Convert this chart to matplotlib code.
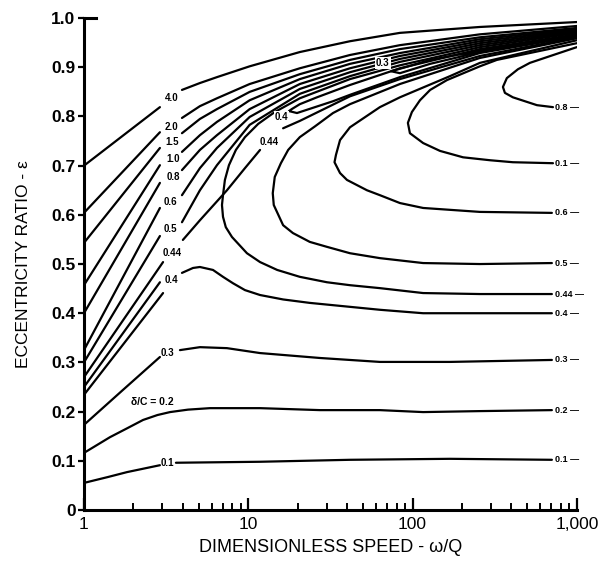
import matplotlib
matplotlib.use("Agg")
import matplotlib.pyplot as plt
import numpy as np

plt.rcParams['font.family'] = ['Liberation Sans', 'DejaVu Sans']

# ---------------- data (speed w/Q, eccentricity ratio) ----------------
# shared abscissae of the upper family after their labels
speed_upper = [3.95, 5.08, 6.45, 10.2, 20.6, 41.6, 83.8, 257, 1000]

# delta/C = 4.0
x_40a = [1, 2.90]; y_40a = [0.700, 0.819]
y_40b = [0.854, 0.868, 0.880, 0.902, 0.931, 0.953, 0.970, 0.982, 0.992]
# delta/C = 2.0
x_20a = [1, 2.90]; y_20a = [0.604, 0.768]
y_20b = [0.797, 0.821, 0.837, 0.866, 0.898, 0.925, 0.945, 0.967, 0.984]
# delta/C = 1.5
x_15a = [1, 2.90]; y_15a = [0.543, 0.736]
y_15b = [0.766, 0.795, 0.815, 0.850, 0.886, 0.915, 0.937, 0.961, 0.980]
# delta/C = 1.0
x_10a = [1, 2.90]; y_10a = [0.457, 0.701]
y_10b = [0.728, 0.762, 0.789, 0.833, 0.876, 0.907, 0.929, 0.957, 0.978]
# delta/C = 0.8
x_08a = [1, 2.90]; y_08a = [0.400, 0.665]
y_08b = [0.691, 0.732, 0.762, 0.815, 0.866, 0.898, 0.923, 0.953, 0.976]
# delta/C = 0.6
x_06a = [1, 2.90]; y_06a = [0.325, 0.614]
y_06b = [0.640, 0.695, 0.736, 0.799, 0.856, 0.890, 0.917, 0.949, 0.974]
# delta/C = 0.5
x_05a = [1, 2.90]; y_05a = [0.300, 0.557]
y_05b = [0.585, 0.650, 0.701, 0.783, 0.846, 0.882, 0.911, 0.945, 0.972]
# delta/C = 0.44 straight branch
x_044a = [1, 3.03]; y_044a = [0.270, 0.504]
x_044b = [4.0, 5.08, 7.42, 9.55, 11.8]; y_044b = [0.549, 0.589, 0.650, 0.695, 0.732]
x_044c = [16.3, 20.6, 41.6, 83.8, 257, 1000]; y_044c = [0.776, 0.791, 0.841, 0.876, 0.923, 0.961]
# unlabelled short line
x_un = [1, 2.90]; y_un = [0.250, 0.463]
# delta/C = 0.44 C-shaped branch
x_044C = [1000, 257, 83.8, 41.6, 20.6, 14.5, 11.5, 9.55, 8.41, 7.63, 7.21, 7.02, 6.92,
          7.02, 7.30, 7.96, 9.82, 11.8, 15.0, 20.6, 30.1, 41.6, 63.3, 116, 257, 705]
y_044C = [0.970, 0.941, 0.904, 0.876, 0.837, 0.809, 0.785, 0.758, 0.732, 0.701, 0.671, 0.640, 0.620,
          0.596, 0.575, 0.555, 0.522, 0.504, 0.488, 0.474, 0.463, 0.457, 0.451, 0.441, 0.439, 0.439]
# delta/C = 0.4 lower (hump) branch
x_04a = [1, 3.03]; y_04a = [0.234, 0.441]
x_04b = [3.95, 4.61, 5.08, 6.10, 7.02, 8.07, 9.55, 11.8, 16.3, 23.7, 63.3, 116, 257, 705]
y_04b = [0.482, 0.492, 0.494, 0.488, 0.474, 0.461, 0.447, 0.437, 0.428, 0.421, 0.407, 0.400, 0.400, 0.400]
# delta/C = 0.4 upper U branch
x_04U = [1000, 257, 83.8, 41.6, 26.2, 20.6, 18.4, 17.7, 19.8, 32.8, 41.6, 83.8, 257, 1000]
y_04U = [0.967, 0.937, 0.898, 0.864, 0.839, 0.825, 0.815, 0.811, 0.807, 0.831, 0.844, 0.880, 0.929, 0.963]
# delta/C = 0.3 upper U branch
x_03U = [1000, 257, 128, 83.8, 74, 83.8, 128, 257, 1000]
y_03U = [0.966, 0.934, 0.915, 0.897, 0.892, 0.888, 0.907, 0.931, 0.965]
# C-shaped curves on the right
x_05C = [1000, 257, 83.8, 41.6, 32.8, 25.5, 20.6, 17.5, 15.8, 14.5, 14.1, 14.3, 16.3, 18.7, 23.7,
         30.1, 41.6, 63.3, 116, 257, 705]
y_05C = [0.959, 0.919, 0.866, 0.825, 0.807, 0.780, 0.758, 0.732, 0.705, 0.677, 0.644, 0.620, 0.579,
         0.563, 0.545, 0.535, 0.522, 0.512, 0.502, 0.500, 0.502]
x_06C = [1000, 257, 169, 83.8, 63.3, 41.6, 36.2, 34.2, 33.5, 34.7, 36.2, 39.9, 52.8, 63.3, 83.8,
         116, 257, 705]
y_06C = [0.955, 0.909, 0.882, 0.839, 0.819, 0.778, 0.752, 0.722, 0.707, 0.697, 0.685, 0.671, 0.650,
         0.640, 0.624, 0.614, 0.606, 0.604]
x_07C = [1000, 326, 257, 162, 128, 111, 99.1, 93.7, 96.4, 116, 147, 203, 297, 408, 716]
y_07C = [0.949, 0.915, 0.902, 0.874, 0.854, 0.833, 0.809, 0.787, 0.766, 0.746, 0.730, 0.717, 0.711,
         0.707, 0.705]
x_08C = [1000, 518, 438, 375, 355, 365, 408, 572, 716]
y_08C = [0.941, 0.909, 0.896, 0.878, 0.860, 0.848, 0.839, 0.823, 0.819]
# delta/C = 0.3 lower branch
x_03a = [1, 1.70, 2.90]; y_03a = [0.173, 0.242, 0.311]
x_03b = [3.84, 5.08, 7.42, 11.8, 27.3, 63.3, 169, 705]
y_03b = [0.325, 0.331, 0.329, 0.319, 0.309, 0.301, 0.301, 0.305]
# delta/C = 0.2
x_02 = [1, 1.44, 1.83, 2.29, 2.80, 3.34, 4.30, 5.85, 11.8, 27.3, 63.3, 116, 257, 705]
y_02 = [0.116, 0.148, 0.166, 0.183, 0.193, 0.199, 0.204, 0.207, 0.207, 0.203, 0.203, 0.199, 0.201, 0.203]
# delta/C = 0.1
x_01a = [1, 1.40, 1.83, 2.90]; y_01a = [0.055, 0.067, 0.077, 0.091]
x_01b = [3.63, 11.8, 41.6, 169, 705]; y_01b = [0.096, 0.098, 0.102, 0.104, 0.102]

# in-plot labels
left_labels = ["4.0", "2.0", "1.5", "1.0", "0.8", "0.6", "0.5", "0.44", "0.4", "0.3", "0.1"]
left_lab_x = [3.43, 3.43, 3.43, 3.48, 3.48, 3.34, 3.34, 3.43, 3.43, 3.24, 3.24]
left_lab_y = [0.837, 0.778, 0.748, 0.713, 0.677, 0.626, 0.571, 0.522, 0.467, 0.319, 0.096]
inner_labels = ["0.44", "0.4", "0.3"]
inner_lab_x = [13.5, 16.0, 66]
inner_lab_y = [0.748, 0.799, 0.909]
right_labels = ["0.8", "0.1", "0.6", "0.5", "0.44", "0.4", "0.3", "0.2", "0.1"]

xticks = [1, 10, 100, 1000]
xtick_labels = ["1", "10", "100", "1,000"]
yticks = [0, 0.1, 0.2, 0.3, 0.4, 0.5, 0.6, 0.7, 0.8, 0.9, 1.0]
ytick_labels = ["0", "0.1", "0.2", "0.3", "0.4", "0.5", "0.6", "0.7", "0.8", "0.9", "1.0"]

# ---------------- drawing ----------------
fig = plt.figure(figsize=(6.04, 5.66), dpi=100)
ax = fig.add_axes([0.139, 0.099, 0.816, 0.869])
ax.set_xscale('log')
ax.set_xlim(1, 1000)
ax.set_ylim(0, 1.0)

LW = 1.6
kw = dict(color='black', lw=LW, solid_capstyle='round', solid_joinstyle='round')

segments = [
    (x_40a, y_40a), (speed_upper, y_40b),
    (x_20a, y_20a), (speed_upper, y_20b),
    (x_15a, y_15a), (speed_upper, y_15b),
    (x_10a, y_10a), (speed_upper, y_10b),
    (x_08a, y_08a), (speed_upper, y_08b),
    (x_06a, y_06a), (speed_upper, y_06b),
    (x_05a, y_05a), (speed_upper, y_05b),
    (x_044a, y_044a), (x_044b, y_044b), (x_044c, y_044c),
    (x_un, y_un),
    (x_044C, y_044C),
    (x_04a, y_04a), (x_04b, y_04b),
    (x_04U, y_04U), (x_03U, y_03U),
    (x_05C, y_05C), (x_06C, y_06C), (x_07C, y_07C), (x_08C, y_08C),
    (x_03a, y_03a), (x_03b, y_03b),
    (x_02, y_02),
    (x_01a, y_01a), (x_01b, y_01b),
]
for xs, ys in segments:
    ax.plot(xs, ys, **kw)

lab_kw = dict(fontsize=7, fontweight='bold', ha='center', va='center', color='black')
for t, x, y in zip(left_labels, left_lab_x, left_lab_y):
    ax.text(x, y, t, **lab_kw)
for t, x, y in zip(inner_labels, inner_lab_x, inner_lab_y):
    ax.text(x, y, t, bbox=dict(facecolor='white', edgecolor='none', pad=0.6), zorder=5, **lab_kw)
ax.text(2.59, 0.220, "δ/C = 0.2", fontsize=7.5, fontweight='bold', ha='center', va='center')

# labels at the right ends
right_ends = [y_08C[-1], y_07C[-1], y_06C[-1], y_05C[-1], y_044C[-1], y_04b[-1], y_03b[-1], y_02[-1], y_01b[-1]]
for t, y in zip(right_labels, right_ends):
    ax.text(740, y, t + " \u2014", fontsize=6.5, fontweight='bold', ha='left', va='center')

# axes styling
for s in ['top', 'right']:
    ax.spines[s].set_visible(False)
for s in ['left', 'bottom']:
    ax.spines[s].set_linewidth(2.2)

ax.set_xticks(xticks)
ax.set_xticklabels(xtick_labels, fontsize=12.5)
ax.tick_params(axis='x', which='major', direction='in', length=9, width=1.6, pad=5)
ax.tick_params(axis='x', which='minor', direction='in', length=5, width=1.4)
ax.xaxis.set_minor_formatter(matplotlib.ticker.NullFormatter())
ax.set_yticks(yticks)
ax.set_yticklabels(ytick_labels, fontsize=12.5, fontweight='bold')
ax.tick_params(axis='y', which='major', direction='out', length=4, width=1.6, pad=2)
ax.axhline(1.0, xmin=0, xmax=0.025, color='black', lw=2.2, clip_on=False)

ax.set_xlabel("DIMENSIONLESS SPEED - ω/Q", fontsize=13, labelpad=5)
ax.set_ylabel("ECCENTRICITY RATIO - ε", fontsize=12.5, labelpad=15)

fig.savefig("out.png", dpi=100)
